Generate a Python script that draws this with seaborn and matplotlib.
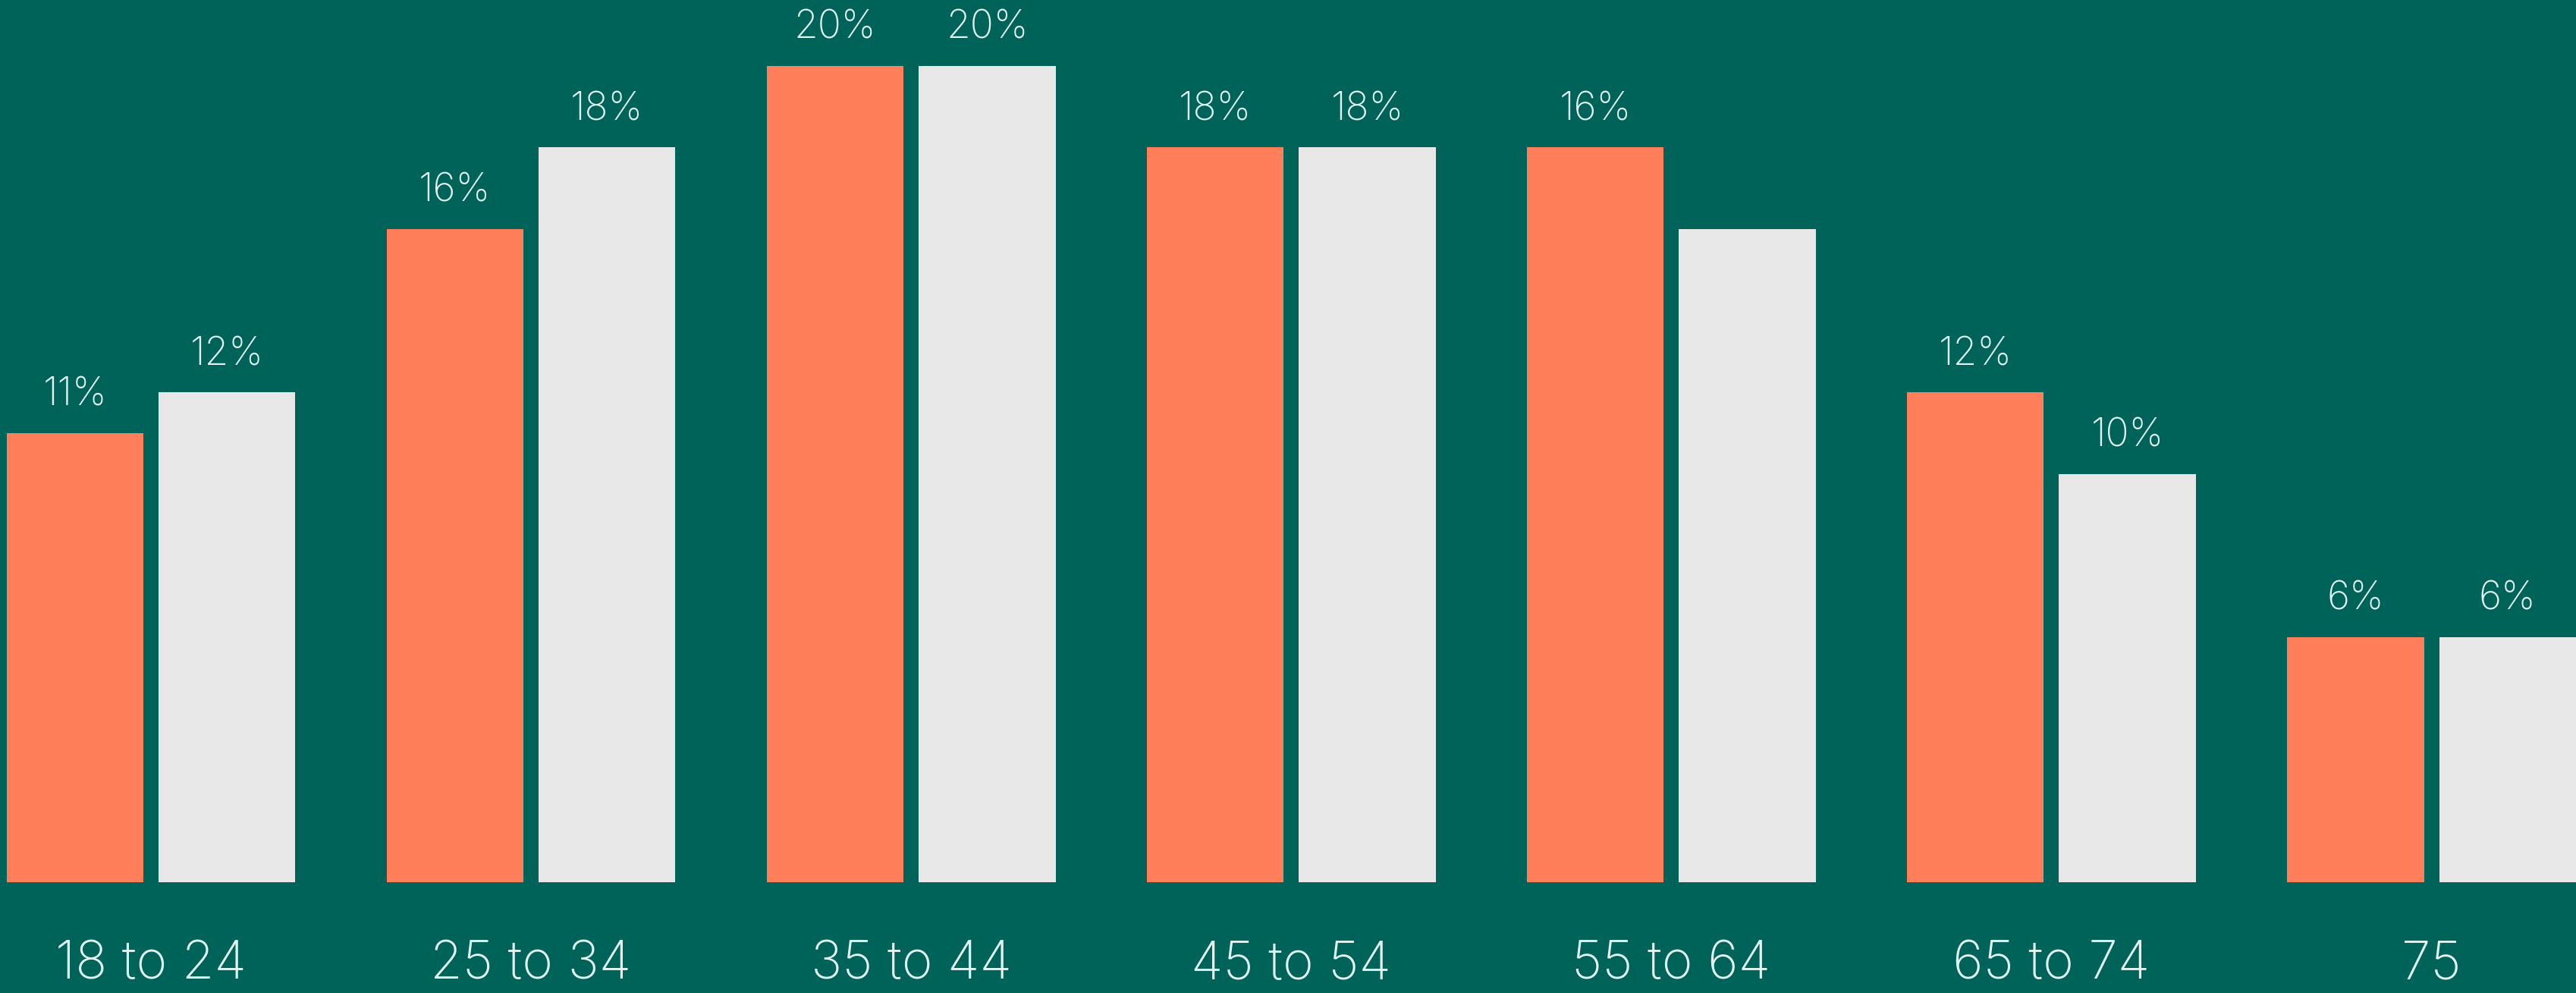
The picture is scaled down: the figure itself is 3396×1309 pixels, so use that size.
import matplotlib
matplotlib.use("Agg")
import matplotlib.pyplot as plt
import seaborn as sns
import pandas as pd

# ---- data ----
categories = ["18 to 24", "25 to 34", "35 to 44", "45 to 54", "55 to 64", "65 to 74", "75"]
series_names = ["Series A", "Series B"]
series_a = [11, 16, 20, 18, 18, 12, 6]
series_b = [12, 18, 20, 18, 16, 10, 6]
labels_a = ["11%", "16%", "20%", "18%", "16%", "12%", "6%"]
labels_b = ["12%", "18%", "20%", "18%", "", "10%", "6%"]

BG = "#00635A"
ORANGE = "#FF7F5B"
LIGHT = "#E7E7E7"
TEXT = "#E2F5F0"

df = pd.DataFrame({
    "age": categories * 2,
    "pct": series_a + series_b,
    "series": [series_names[0]] * len(categories) + [series_names[1]] * len(categories),
})

sns.set_theme(style="white")
plt.rcParams["font.family"] = ["Inter", "DejaVu Sans"]

fig = plt.figure(figsize=(33.96, 13.09), dpi=100, facecolor=BG)
ax = fig.add_axes([0, 146 / 1309, 1, 1163 / 1309])
ax.set_facecolor(BG)

sns.barplot(data=df, x="age", y="pct", hue="series", order=categories,
            hue_order=series_names, palette=[ORANGE, LIGHT], saturation=1,
            width=0.8, gap=0.1, dodge=True, legend=False, linewidth=0,
            errorbar=None, ax=ax)

for cont, labs in zip(ax.containers, [labels_a, labels_b]):
    for bar, lab in zip(cont, labs):
        if not lab:
            continue
        ax.annotate(lab, (bar.get_x() + bar.get_width() / 2, bar.get_height()),
                    xytext=(0, 26), textcoords="offset points", ha="center",
                    va="baseline", color=TEXT, fontsize=37, fontweight="light")

ax.set_xlim(-0.397, 6.38)
ax.set_ylim(0, 21.61)
ax.set_xlabel("")
ax.set_ylabel("")
ax.set_yticks([])
for s in ax.spines.values():
    s.set_visible(False)
ax.tick_params(axis="x", length=0, pad=92, labelsize=50, labelcolor=TEXT)
for t in ax.get_xticklabels():
    t.set_verticalalignment("baseline")
    t.set_fontweight("light")

fig.savefig("out.png", dpi=100, facecolor=BG)
